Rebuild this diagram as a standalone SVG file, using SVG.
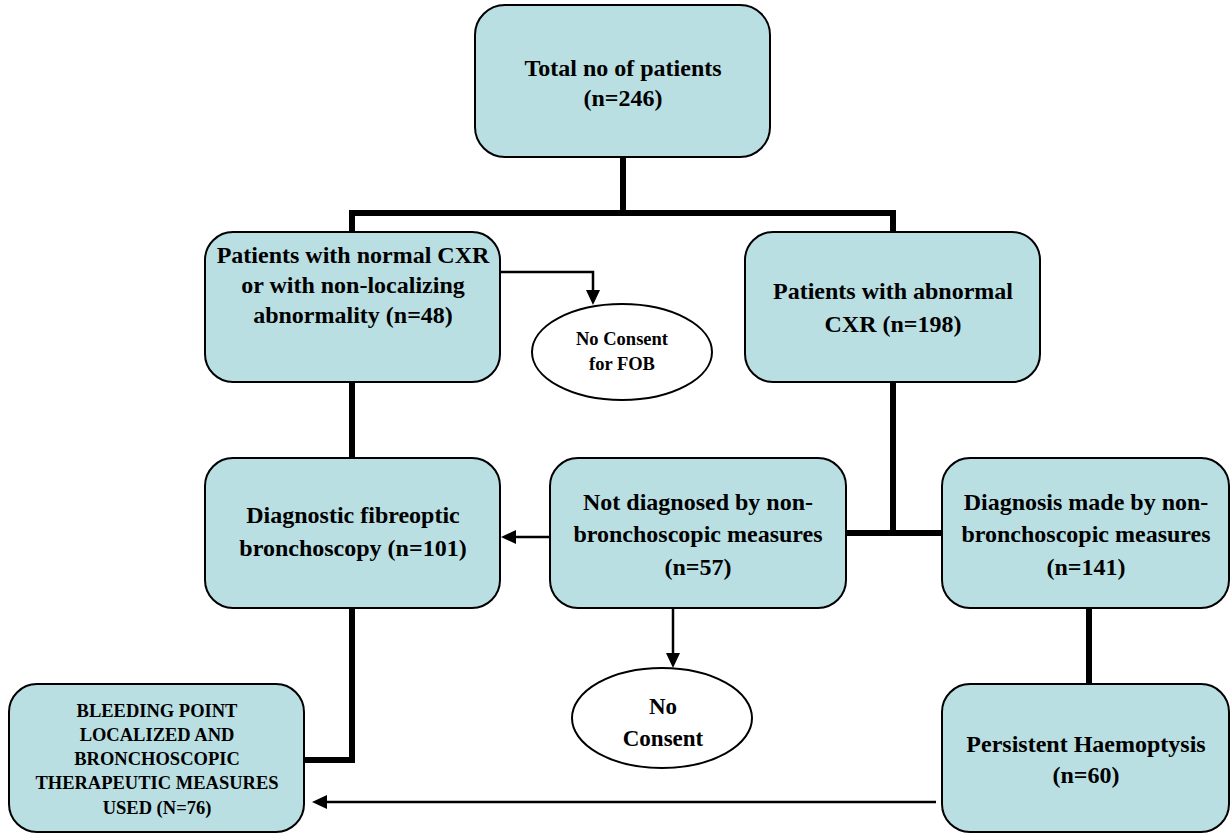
<svg xmlns="http://www.w3.org/2000/svg" width="1231" height="834" viewBox="0 0 1231 834">
<style>
.box{fill:#b9dfe3;stroke:#000;stroke-width:2}
.ell{fill:#fff;stroke:#000;stroke-width:2}
.t{font-family:"Liberation Serif","Times New Roman",serif;font-weight:bold;font-size:24px;fill:#000;text-anchor:middle}
.s{font-size:18.5px}
.thick{fill:none;stroke:#000;stroke-width:6}
.thin{fill:none;stroke:#000;stroke-width:2.5}
</style>
<defs>
<marker id="ah" markerUnits="userSpaceOnUse" markerWidth="16" markerHeight="16" refX="5" refY="7" orient="auto">
<path d="M0,0 L15,7 L0,14 z" fill="#000"/>
</marker>
</defs>
<rect width="1231" height="834" fill="#fff"/>
<g id="connectors">
<path class="thick" d="M623,157 V213 M349,213 H896 M352,213 V232 M893,213 V232 M352,382 V458 M893,382 V533 M846,533 H942 M1089,608 V684"/>
<path class="thick" d="M352,608 V760 H304"/>
<path class="thin" d="M500,272 H593 V295" marker-end="url(#ah)"/>
<path class="thin" d="M550,537 H511" marker-end="url(#ah)"/>
<path class="thin" d="M673,604 V658" marker-end="url(#ah)"/>
<path class="thin" d="M936,802 H322" marker-end="url(#ah)"/>
</g>
<g id="total">
<rect class="box" x="475" y="5" width="295" height="152" rx="30"/>
<text class="t" x="623" y="76">Total no of patients</text>
<text class="t" x="623" y="106">(n=246)</text>
</g>
<g id="normal-cxr">
<rect class="box" x="205" y="232" width="295" height="150" rx="28"/>
<text class="t" x="353" y="263">Patients with normal CXR</text>
<text class="t" x="353" y="293">or with non-localizing</text>
<text class="t" x="353" y="323">abnormality (n=48)</text>
</g>
<g id="no-consent-fob">
<ellipse class="ell" cx="622" cy="352" rx="90" ry="48"/>
<text class="t s" x="622" y="345">No Consent</text>
<text class="t s" x="622" y="370">for FOB</text>
</g>
<g id="abnormal-cxr">
<rect class="box" x="745" y="232" width="295" height="150" rx="28"/>
<text class="t" x="893" y="299">Patients with abnormal</text>
<text class="t" x="893" y="332">CXR (n=198)</text>
</g>
<g id="fob">
<rect class="box" x="205" y="458" width="295" height="150" rx="28"/>
<text class="t" x="353" y="523">Diagnostic fibreoptic</text>
<text class="t" x="353" y="556">bronchoscopy (n=101)</text>
</g>
<g id="not-diagnosed">
<rect class="box" x="550" y="458" width="296" height="150" rx="28"/>
<text class="t" x="698" y="510">Not diagnosed by non-</text>
<text class="t" x="698" y="542">bronchoscopic measures</text>
<text class="t" x="698" y="575">(n=57)</text>
</g>
<g id="diagnosed">
<rect class="box" x="942" y="458" width="287" height="150" rx="28"/>
<text class="t" x="1086" y="510">Diagnosis made by non-</text>
<text class="t" x="1086" y="542">bronchoscopic measures</text>
<text class="t" x="1086" y="575">(n=141)</text>
</g>
<g id="bleeding">
<rect class="box" x="9" y="684" width="295" height="148" rx="28"/>
<text class="t s" x="157" y="717">BLEEDING POINT</text>
<text class="t s" x="157" y="741">LOCALIZED AND</text>
<text class="t s" x="157" y="765">BRONCHOSCOPIC</text>
<text class="t s" x="157" y="789">THERAPEUTIC MEASURES</text>
<text class="t s" x="157" y="814">USED (N=76)</text>
</g>
<g id="no-consent">
<ellipse class="ell" cx="662" cy="718" rx="90" ry="50"/>
<text class="t" x="663" y="714" style="font-size:23px">No</text>
<text class="t" x="663" y="746" style="font-size:23px">Consent</text>
</g>
<g id="persistent">
<rect class="box" x="942" y="684" width="287" height="148" rx="28"/>
<text class="t" x="1086" y="752">Persistent Haemoptysis</text>
<text class="t" x="1086" y="783">(n=60)</text>
</g>
</svg>
